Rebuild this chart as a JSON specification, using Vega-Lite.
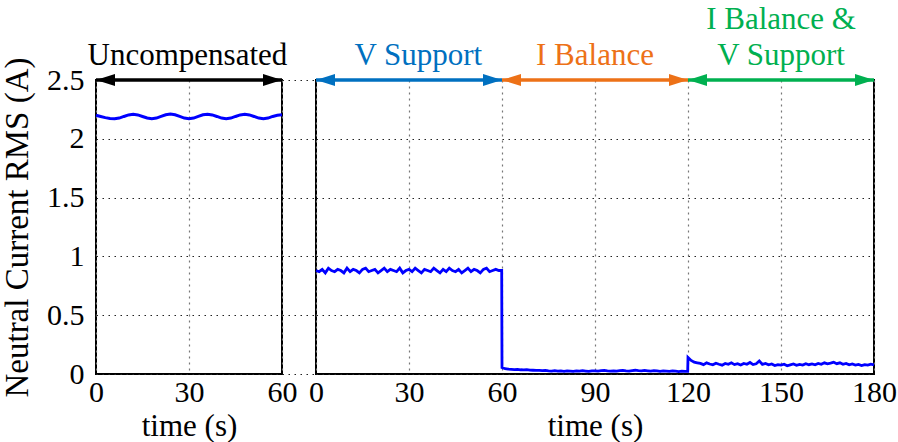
{
  "$schema": "https://vega.github.io/schema/vega-lite/v6.json",
  "background": "white",
  "padding": {"left": 0, "top": 3, "right": 5, "bottom": 0},
  "bounds": "flush",
  "spacing": 0,
  "config": {
    "font": "Liberation Serif",
    "view": {"stroke": "black", "strokeWidth": 2},
    "axis": {
      "labelFont": "Liberation Serif", "titleFont": "Liberation Serif",
      "labelFontSize": 30, "titleFontSize": 31,
      "labelColor": "black", "titleColor": "black", "titleFontWeight": "normal",
      "domain": false, "ticks": false,
      "gridColor": "#222", "gridDash": [1.5, 4.5], "gridWidth": 1.2, "gridOpacity": 1,
      "labelFlush": false
    },
    "text": {"font": "Liberation Serif"}
  },
  "datasets": {
    "left": [
      {"t": 0, "i": 2.2}, {"t": 1.5, "i": 2.19}, {"t": 3, "i": 2.18}, {"t": 4.5, "i": 2.172}, {"t": 6, "i": 2.17},
      {"t": 7.5, "i": 2.176}, {"t": 9, "i": 2.19}, {"t": 10.5, "i": 2.203}, {"t": 12, "i": 2.208},
      {"t": 13.5, "i": 2.203}, {"t": 15, "i": 2.19}, {"t": 16.5, "i": 2.177}, {"t": 18, "i": 2.171},
      {"t": 19.5, "i": 2.176}, {"t": 21, "i": 2.19}, {"t": 22.5, "i": 2.204}, {"t": 24, "i": 2.21},
      {"t": 25.5, "i": 2.204}, {"t": 27, "i": 2.19}, {"t": 28.5, "i": 2.176}, {"t": 30, "i": 2.17},
      {"t": 31.5, "i": 2.176}, {"t": 33, "i": 2.19}, {"t": 34.5, "i": 2.204}, {"t": 36, "i": 2.209},
      {"t": 37.5, "i": 2.203}, {"t": 39, "i": 2.19}, {"t": 40.5, "i": 2.176}, {"t": 42, "i": 2.171},
      {"t": 43.5, "i": 2.176}, {"t": 45, "i": 2.19}, {"t": 46.5, "i": 2.203}, {"t": 48, "i": 2.208},
      {"t": 49.5, "i": 2.203}, {"t": 51, "i": 2.19}, {"t": 52.5, "i": 2.176}, {"t": 54, "i": 2.171},
      {"t": 55.5, "i": 2.176}, {"t": 57, "i": 2.19}, {"t": 58.5, "i": 2.2}, {"t": 60, "i": 2.205}
    ],
    "right": [
      {"t": 0, "i": 0.88}, {"t": 1, "i": 0.87}, {"t": 2, "i": 0.89}, {"t": 3, "i": 0.86}, {"t": 4, "i": 0.9},
      {"t": 5, "i": 0.88}, {"t": 6, "i": 0.87}, {"t": 7, "i": 0.89}, {"t": 8, "i": 0.88}, {"t": 9, "i": 0.86},
      {"t": 10, "i": 0.9}, {"t": 11, "i": 0.87}, {"t": 12, "i": 0.89}, {"t": 13, "i": 0.88}, {"t": 14, "i": 0.86},
      {"t": 15, "i": 0.89}, {"t": 16, "i": 0.9}, {"t": 17, "i": 0.87}, {"t": 18, "i": 0.88}, {"t": 19, "i": 0.89},
      {"t": 20, "i": 0.86}, {"t": 21, "i": 0.88}, {"t": 22, "i": 0.9}, {"t": 23, "i": 0.87}, {"t": 24, "i": 0.89},
      {"t": 25, "i": 0.88}, {"t": 26, "i": 0.87}, {"t": 27, "i": 0.9}, {"t": 28, "i": 0.86}, {"t": 29, "i": 0.88},
      {"t": 30, "i": 0.89}, {"t": 31, "i": 0.87}, {"t": 32, "i": 0.9}, {"t": 33, "i": 0.88}, {"t": 34, "i": 0.86},
      {"t": 35, "i": 0.89}, {"t": 36, "i": 0.88}, {"t": 37, "i": 0.87}, {"t": 38, "i": 0.9}, {"t": 39, "i": 0.88},
      {"t": 40, "i": 0.86}, {"t": 41, "i": 0.89}, {"t": 42, "i": 0.87}, {"t": 43, "i": 0.9}, {"t": 44, "i": 0.88},
      {"t": 45, "i": 0.87}, {"t": 46, "i": 0.89}, {"t": 47, "i": 0.86}, {"t": 48, "i": 0.88}, {"t": 49, "i": 0.9},
      {"t": 50, "i": 0.87}, {"t": 51, "i": 0.89}, {"t": 52, "i": 0.88}, {"t": 53, "i": 0.86}, {"t": 54, "i": 0.89},
      {"t": 55, "i": 0.9}, {"t": 56, "i": 0.87}, {"t": 57, "i": 0.88}, {"t": 58, "i": 0.89}, {"t": 59, "i": 0.88},
      {"t": 59.9, "i": 0.88},
      {"t": 60, "i": 0.055}, {"t": 61, "i": 0.045}, {"t": 62, "i": 0.042}, {"t": 63, "i": 0.04}, {"t": 64, "i": 0.038},
      {"t": 65, "i": 0.04}, {"t": 66, "i": 0.036}, {"t": 67, "i": 0.035}, {"t": 68, "i": 0.037}, {"t": 69, "i": 0.033},
      {"t": 70, "i": 0.032}, {"t": 71, "i": 0.03}, {"t": 72, "i": 0.031}, {"t": 73, "i": 0.028}, {"t": 74, "i": 0.03},
      {"t": 75, "i": 0.027}, {"t": 76, "i": 0.025}, {"t": 77, "i": 0.028}, {"t": 78, "i": 0.024}, {"t": 79, "i": 0.026},
      {"t": 80, "i": 0.023}, {"t": 81, "i": 0.027}, {"t": 82, "i": 0.025}, {"t": 83, "i": 0.022}, {"t": 84, "i": 0.026},
      {"t": 85, "i": 0.024}, {"t": 86, "i": 0.028}, {"t": 87, "i": 0.025}, {"t": 88, "i": 0.022}, {"t": 89, "i": 0.026},
      {"t": 90, "i": 0.027}, {"t": 91, "i": 0.024}, {"t": 92, "i": 0.028}, {"t": 93, "i": 0.03}, {"t": 94, "i": 0.026},
      {"t": 95, "i": 0.024}, {"t": 96, "i": 0.027}, {"t": 97, "i": 0.025}, {"t": 98, "i": 0.029}, {"t": 99, "i": 0.031},
      {"t": 100, "i": 0.027}, {"t": 101, "i": 0.025}, {"t": 102, "i": 0.029}, {"t": 103, "i": 0.032}, {"t": 104, "i": 0.028},
      {"t": 105, "i": 0.026}, {"t": 106, "i": 0.03}, {"t": 107, "i": 0.027}, {"t": 108, "i": 0.024}, {"t": 109, "i": 0.028},
      {"t": 110, "i": 0.026}, {"t": 111, "i": 0.023}, {"t": 112, "i": 0.027}, {"t": 113, "i": 0.025}, {"t": 114, "i": 0.022},
      {"t": 115, "i": 0.026}, {"t": 116, "i": 0.024}, {"t": 117, "i": 0.021}, {"t": 118, "i": 0.025}, {"t": 119, "i": 0.022},
      {"t": 119.9, "i": 0.023},
      {"t": 120, "i": 0.14}, {"t": 121, "i": 0.115}, {"t": 122, "i": 0.1}, {"t": 123, "i": 0.095}, {"t": 124, "i": 0.09},
      {"t": 125, "i": 0.08}, {"t": 126, "i": 0.095}, {"t": 127, "i": 0.085}, {"t": 128, "i": 0.078}, {"t": 129, "i": 0.092},
      {"t": 130, "i": 0.083}, {"t": 131, "i": 0.075}, {"t": 132, "i": 0.09}, {"t": 133, "i": 0.082}, {"t": 134, "i": 0.095},
      {"t": 135, "i": 0.08}, {"t": 136, "i": 0.088}, {"t": 137, "i": 0.076}, {"t": 138, "i": 0.09}, {"t": 139, "i": 0.083},
      {"t": 140, "i": 0.098}, {"t": 141, "i": 0.08}, {"t": 142, "i": 0.087}, {"t": 143, "i": 0.11}, {"t": 144, "i": 0.082},
      {"t": 145, "i": 0.09}, {"t": 146, "i": 0.078}, {"t": 147, "i": 0.085}, {"t": 148, "i": 0.072}, {"t": 149, "i": 0.08},
      {"t": 150, "i": 0.075}, {"t": 151, "i": 0.083}, {"t": 152, "i": 0.07}, {"t": 153, "i": 0.078}, {"t": 154, "i": 0.085},
      {"t": 155, "i": 0.074}, {"t": 156, "i": 0.082}, {"t": 157, "i": 0.076}, {"t": 158, "i": 0.088}, {"t": 159, "i": 0.079},
      {"t": 160, "i": 0.085}, {"t": 161, "i": 0.078}, {"t": 162, "i": 0.09}, {"t": 163, "i": 0.082}, {"t": 164, "i": 0.095},
      {"t": 165, "i": 0.086}, {"t": 166, "i": 0.092}, {"t": 167, "i": 0.1}, {"t": 168, "i": 0.088}, {"t": 169, "i": 0.095},
      {"t": 170, "i": 0.083}, {"t": 171, "i": 0.09}, {"t": 172, "i": 0.078}, {"t": 173, "i": 0.085}, {"t": 174, "i": 0.076},
      {"t": 175, "i": 0.082}, {"t": 176, "i": 0.072}, {"t": 177, "i": 0.08}, {"t": 178, "i": 0.075}, {"t": 179, "i": 0.083},
      {"t": 180, "i": 0.078}
    ],
    "annLeft": [
      {"label": "Uncompensated", "line1": "", "line2": "Uncompensated", "x0": 0, "x1": 60, "mid": 29.5}
    ],
    "annRight": [
      {"label": "V Support", "line1": "", "line2": "V Support", "x0": 0, "x1": 60, "mid": 33},
      {"label": "I Balance", "line1": "", "line2": "I Balance", "x0": 60, "x1": 120, "mid": 90},
      {"label": "I Balance & V Support", "line1": "I Balance &", "line2": "V Support", "x0": 120, "x1": 180, "mid": 150}
    ]
  },
  "hconcat": [
    {
      "width": 186,
      "height": 294,
      "layer": [
        {
          "data": {"name": "left"},
          "mark": {"type": "line", "color": "#0000ff", "strokeWidth": 3},
          "encoding": {
            "x": {"field": "t", "type": "quantitative",
                  "scale": {"domain": [0, 60], "nice": false},
                  "axis": {"values": [0, 30, 60], "title": "time (s)", "grid": true, "gridColor": "#777", "gridDash": [2, 4], "labelPadding": 3, "titlePadding": 4}},
            "y": {"field": "i", "type": "quantitative",
                  "scale": {"domain": [0, 2.5], "nice": false},
                  "axis": {"values": [0, 0.5, 1, 1.5, 2, 2.5], "format": ".1~f", "title": "Neutral Current RMS (A)", "titleFontSize": 33, "grid": true, "labelPadding": 12, "titlePadding": 12}}
          }
        },
        {
          "data": {"name": "annLeft"},
          "mark": {"type": "rule", "color": "black", "strokeWidth": 3.5},
          "encoding": {
            "x": {"field": "x0", "type": "quantitative"},
            "x2": {"field": "x1"},
            "y": {"datum": 2.5}
          }
        },
        {
          "data": {"name": "annLeft"},
          "transform": [{"fold": ["x0", "x1"], "as": ["end", "pos"]}],
          "mark": {"type": "point", "filled": true, "opacity": 1, "color": "black", "strokeWidth": 0, "size": 1444},
          "encoding": {
            "x": {"field": "pos", "type": "quantitative"},
            "y": {"datum": 2.5},
            "shape": {"field": "end", "type": "nominal", "legend": null,
                      "scale": {"domain": ["x0", "x1"], "range": ["M0,0L1,-0.32L1,0.32Z", "M0,0L-1,-0.32L-1,0.32Z"]}}
          }
        },
        {
          "data": {"name": "annLeft"},
          "mark": {"type": "text", "fontSize": 31, "baseline": "alphabetic", "dy": -15, "color": "black"},
          "encoding": {
            "x": {"field": "mid", "type": "quantitative"},
            "y": {"datum": 2.5},
            "text": {"field": "line2"}
          }
        }
      ]
    },
    {
      "width": 34,
      "height": 294,
      "view": {"stroke": null},
      "layer": [
        {
          "mark": {"type": "rule", "color": "#777", "strokeWidth": 2},
          "encoding": {
            "y": {"datum": 2.5, "type": "quantitative",
                  "scale": {"domain": [0, 2.5], "nice": false},
                  "axis": {"values": [0, 0.5, 1, 1.5, 2, 2.5], "title": null, "labels": false, "grid": true}}
          }
        },
        {
          "mark": {"type": "rule", "color": "#777", "strokeWidth": 2},
          "encoding": {"y": {"datum": 0, "type": "quantitative"}}
        }
      ]
    },
    {
      "width": 558,
      "height": 294,
      "layer": [
        {
          "data": {"name": "right"},
          "mark": {"type": "line", "color": "#0000ff", "strokeWidth": 2.8},
          "encoding": {
            "x": {"field": "t", "type": "quantitative",
                  "scale": {"domain": [0, 180], "nice": false},
                  "axis": {"values": [0, 30, 60, 90, 120, 150, 180], "title": "time (s)", "grid": true, "gridColor": "#777", "gridDash": [2, 4], "labelPadding": 3, "titlePadding": 4}},
            "y": {"field": "i", "type": "quantitative",
                  "scale": {"domain": [0, 2.5], "nice": false},
                  "axis": {"values": [0, 0.5, 1, 1.5, 2, 2.5], "title": null, "labels": false, "grid": true}}
          }
        },
        {
          "data": {"name": "annRight"},
          "mark": {"type": "rule", "strokeWidth": 3.5},
          "encoding": {
            "x": {"field": "x0", "type": "quantitative"},
            "x2": {"field": "x1"},
            "y": {"datum": 2.5},
            "color": {"field": "label", "type": "nominal", "legend": null,
                      "scale": {"domain": ["V Support", "I Balance", "I Balance & V Support"], "range": ["#0070c0", "#ed7117", "#00b050"]}}
          }
        },
        {
          "data": {"name": "annRight"},
          "transform": [{"fold": ["x0", "x1"], "as": ["end", "pos"]}],
          "mark": {"type": "point", "filled": true, "opacity": 1, "strokeWidth": 0, "size": 1444},
          "encoding": {
            "x": {"field": "pos", "type": "quantitative"},
            "y": {"datum": 2.5},
            "shape": {"field": "end", "type": "nominal", "legend": null,
                      "scale": {"domain": ["x0", "x1"], "range": ["M0,0L1,-0.32L1,0.32Z", "M0,0L-1,-0.32L-1,0.32Z"]}},
            "color": {"field": "label", "type": "nominal", "legend": null}
          }
        },
        {
          "data": {"name": "annRight"},
          "mark": {"type": "text", "fontSize": 31, "baseline": "alphabetic", "dy": -15},
          "encoding": {
            "x": {"field": "mid", "type": "quantitative"},
            "y": {"datum": 2.5},
            "text": {"field": "line2"},
            "color": {"field": "label", "type": "nominal", "legend": null}
          }
        },
        {
          "data": {"name": "annRight"},
          "transform": [{"filter": "datum.line1 != ''"}],
          "mark": {"type": "text", "fontSize": 31, "baseline": "alphabetic", "dy": -51},
          "encoding": {
            "x": {"field": "mid", "type": "quantitative"},
            "y": {"datum": 2.5},
            "text": {"field": "line1"},
            "color": {"field": "label", "type": "nominal", "legend": null}
          }
        }
      ]
    }
  ]
}
